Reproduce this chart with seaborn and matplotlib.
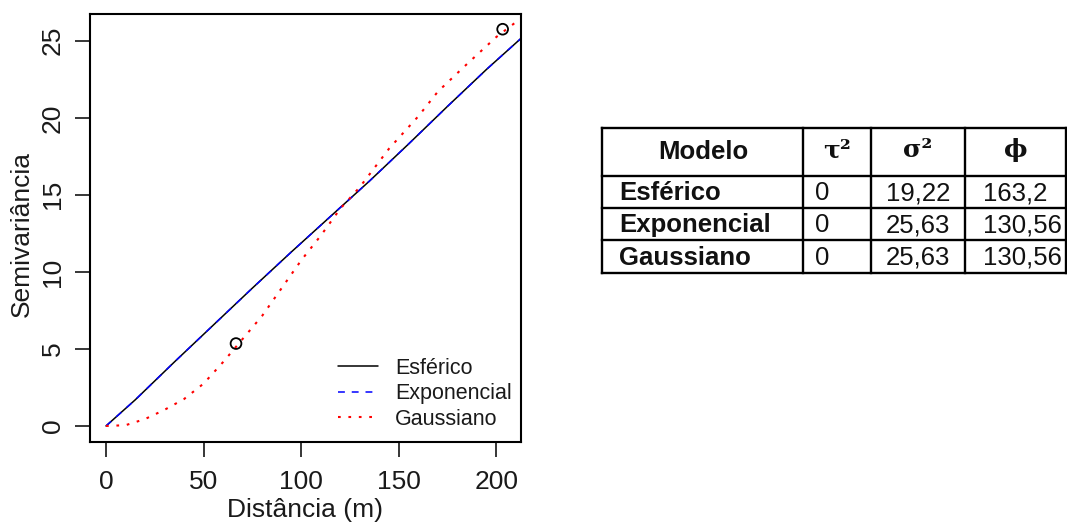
import numpy as np
import pandas as pd
import matplotlib
matplotlib.use("Agg")
import matplotlib.pyplot as plt
import seaborn as sns
from matplotlib.lines import Line2D

# ---------------- data ----------------
lin_x = [0, 15, 35, 55, 75, 95, 115, 135, 155, 175, 195, 213]
esferico_y = [0, 1.7, 4.15, 6.55, 8.95, 11.3, 13.6, 15.9, 18.3, 20.75, 23.15, 25.2]
exponencial_y = [0, 1.7, 4.15, 6.55, 8.95, 11.3, 13.6, 15.9, 18.3, 20.75, 23.15, 25.2]

gau_x = [0, 10, 20, 30, 40, 50, 60, 70, 80, 90, 100, 110, 120, 130, 145, 160, 170, 185, 200, 213]
gaussiano_y = [0, 0.05, 0.45, 1.05, 1.75, 2.75, 4.15, 5.65, 7.15, 8.95, 10.75, 12.35, 14.1,
               15.5, 18.0, 20.1, 21.7, 23.5, 25.25, 26.5]

emp_x = [66.6, 203.2]
emp_y = [5.35, 25.75]

legend_labels = ["Esférico", "Exponencial", "Gaussiano"]

table_header = ["Modelo", "τ²", "σ²", "ϕ"]
table_model = ["Esférico", "Exponencial", "Gaussiano"]
table_tau = ["0", "0", "0"]
table_sigma = ["19,22", "25,63", "25,63"]
table_phi = ["163,2", "130,56", "130,56"]

# ---------------- figure ----------------
sns.set_theme(style="white")
plt.rcParams["font.family"] = ["Liberation Sans", "DejaVu Sans"]

W, H = 1067, 526
fig = plt.figure(figsize=(W / 100, H / 100), dpi=100)

ax = fig.add_axes([90 / W, 1 - 442 / H, (521 - 90) / W, (442 - 13.5) / H])

df_lin = pd.DataFrame({"x": lin_x, "esf": esferico_y, "exp": exponencial_y})
df_gau = pd.DataFrame({"x": gau_x, "y": gaussiano_y})
df_emp = pd.DataFrame({"x": emp_x, "y": emp_y})

DASH = (0, (4.5, 4.5))
DOT = (0, (1.3, 3.7))

sns.lineplot(data=df_lin, x="x", y="esf", ax=ax, color="black", lw=1.1,
             estimator=None, sort=False)
sns.lineplot(data=df_lin, x="x", y="exp", ax=ax, color="#0000ff", lw=1.1,
             estimator=None, sort=False)
ax.lines[-1].set_linestyle(DASH)
sns.lineplot(data=df_gau, x="x", y="y", ax=ax, color="#ff0000", lw=1.5,
             estimator=None, sort=False)
ax.lines[-1].set_linestyle(DOT)
sns.scatterplot(data=df_emp, x="x", y="y", ax=ax, s=60, facecolor="none",
                edgecolor="black", linewidth=1.3, zorder=5)

ax.set_xlim(-8.2, 212.6)
ax.set_ylim(-1.04, 26.77)
ax.set_xticks([0, 50, 100, 150, 200])
ax.set_yticks([0, 5, 10, 15, 20, 25])
ax.tick_params(axis="both", direction="out", length=11, width=1.1, color="black",
               labelsize=19, labelcolor="#1a1a1a", left=True, bottom=True)
ax.tick_params(axis="x", pad=9)
ax.tick_params(axis="y", pad=7)
for lab in ax.get_yticklabels():
    lab.set_rotation(90)
    lab.set_va("center")
for sp in ax.spines.values():
    sp.set_visible(True)
    sp.set_color("black")
    sp.set_linewidth(1.5)

ax.set_xlabel("Distância (m)", fontsize=19, color="#1a1a1a")
ax.set_ylabel("Semivariância", fontsize=19, color="#1a1a1a")
ax.xaxis.set_label_coords((305 - 90) / 431, (442 - 510) / 428.5)
ax.xaxis.label.set_va("center")
ax.yaxis.set_label_coords((21.5 - 90) / 431, (442 - 234) / 428.5)
ax.yaxis.label.set_va("center")

handles = [
    Line2D([], [], color="black", lw=1.1),
    Line2D([], [], color="#0000ff", lw=1.1, linestyle=DASH),
    Line2D([], [], color="#ff0000", lw=1.5, linestyle=DOT),
]
ax.legend(handles, legend_labels, loc="lower right", frameon=False, fontsize=15.5,
          handlelength=1.86, handletextpad=0.8, labelspacing=0.22,
          borderaxespad=0.0, borderpad=0.0,
          bbox_to_anchor=((512 - 90) / 431, (442 - 430) / 428.5))
for t in ax.get_legend().get_texts():
    t.set_color("#1a1a1a")

# ---------------- table ----------------
tx0, tx1, ty0, ty1 = 602, 1066, 128, 273
tax = fig.add_axes([tx0 / W, 1 - ty1 / H, (tx1 - tx0) / W, (ty1 - ty0) / H])
tax.set_xlim(tx0, tx1)
tax.set_ylim(ty1, ty0)
tax.axis("off")

col_edges = [602, 803, 871, 965, 1066]
row_edges = [128, 176, 208, 240, 273]
for xe in col_edges:
    tax.plot([xe, xe], [row_edges[0], row_edges[-1]], color="black", lw=1.7,
             solid_capstyle="projecting", clip_on=False)
for ye in row_edges:
    tax.plot([col_edges[0], col_edges[-1]], [ye, ye], color="black", lw=1.7,
             solid_capstyle="projecting", clip_on=False)

FS = 18.5
hy = (row_edges[0] + row_edges[1]) / 2
tax.text(703, hy, table_header[0], ha="center", va="center", fontsize=FS,
         fontweight="bold", color="#111111")
for i, sym in enumerate(table_header[1:]):
    cx = (col_edges[i + 1] + col_edges[i + 2]) / 2
    tax.text(cx, hy - 2, sym, ha="center", va="center", fontsize=18,
             fontweight="bold", color="#111111",
             family=["DejaVu Serif", "DejaVu Sans"])

for r in range(3):
    cy = (row_edges[r + 1] + row_edges[r + 2]) / 2 + 1
    tax.text(619, cy, table_model[r], ha="left", va="center", fontsize=FS,
             fontweight="bold", color="#111111")
    tax.text(815, cy, table_tau[r], ha="left", va="center", fontsize=FS,
             color="#111111")
    tax.text(918, cy, table_sigma[r], ha="center", va="center", fontsize=FS,
             color="#111111")
    tax.text(983, cy, table_phi[r], ha="left", va="center", fontsize=FS,
             color="#111111")

fig.savefig("out.png", dpi=100)
